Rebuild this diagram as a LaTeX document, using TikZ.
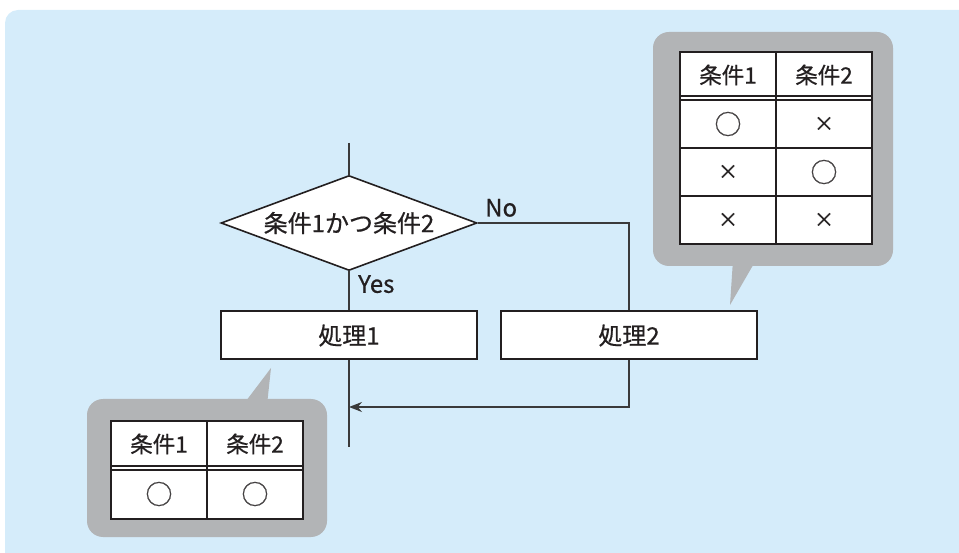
\documentclass[tikz,border=0pt]{standalone}
\usepackage{fontspec}
\setmainfont[FakeBold=0.6]{Noto Sans CJK JP}
\usetikzlibrary{shapes.geometric,arrows.meta}
\definecolor{bgblue}{HTML}{D5ECFA}
\definecolor{callgray}{HTML}{B2B4B6}
\definecolor{linec}{HTML}{3A3A3A}
\definecolor{txt}{HTML}{231F20}
\tikzset{
  flow/.style={draw=linec, line width=1.4pt},
  procbox/.style={draw=txt, line width=2pt, fill=white, minimum width=256pt, minimum height=48pt, inner sep=0pt, font=\fontsize{24}{26}\selectfont, text=txt},
  decision/.style={diamond, aspect=2.7, draw=txt, line width=1.6pt, fill=white, minimum width=256pt, minimum height=95pt, inner sep=0pt, font=\fontsize{24}{26}\selectfont, text=txt},
  lbl/.style={font=\fontsize{24}{26}\selectfont, text=txt, inner sep=0pt},
  callout/.style={fill=callgray, rounded corners=16pt},
  tbl/.style={draw=txt, line width=1.3pt},
  cell/.style={font=\fontsize{22.5}{24}\selectfont, text=txt, inner sep=0pt},
  circsymb/.style={font=\fontsize{27}{28}\selectfont, text=txt!85, inner sep=0pt},
  crosssymb/.style={font=\fontsize{20}{22}\selectfont, text=txt, inner sep=0pt}
}
\begin{document}
\begin{tikzpicture}[x=1pt,y=-1pt]
\useasboundingbox (0,0) rectangle (959,553);
\fill[bgblue, rounded corners=13pt] (5,10) rectangle (990,590);

% callouts
\fill[callout] (653,32) rectangle (893,266);
\fill[callgray] (733,260) -- (756,260) -- (730,305) -- cycle;
\fill[callout] (87,399) rectangle (327,537);
\fill[callgray] (243,405) -- (267,405) -- (271,368) -- cycle;

% flowchart
\coordinate (top) at (349,143);
\node[decision] (d) at (349,223) {条件1かつ条件2};
\node[procbox] (p1) at (349,335.5) {処理1};
\node[procbox] (p2) at (629,335.5) {処理2};
\coordinate (bot) at (349,447);
\coordinate (m) at (349,407);

\draw[flow] (top) -- (d.north);
\draw[flow] (d.south) -- (p1.north);
\draw[flow] (d.east) -| (p2.north);
\draw[flow] (p1.south) -- (bot);
\draw[flow, -{Stealth[length=13pt,width=10pt]}] (p2.south) |- (m);

\node[lbl, anchor=south west] (no) at (485,217) {No};
\node[lbl, anchor=north west] (yes) at (358,275) {Yes};

% top-right table
\fill[white] (680,52) rectangle (872,244);
\draw[tbl] (680,52) rectangle (872,244);
\draw[tbl] (776,52) -- (776,244);
\draw[tbl] (680,96) -- (872,96);
\draw[tbl] (680,100) -- (872,100);
\draw[tbl] (680,148) -- (872,148);
\draw[tbl] (680,196) -- (872,196);
\node[cell] (h1) at (728,75) {条件1};
\node[cell] (h2) at (824,75) {条件2};
\node[circsymb] (a11) at (728,124) {○};
\node[crosssymb] (a12) at (824,124) {×};
\node[crosssymb] (a21) at (728,172) {×};
\node[circsymb] (a22) at (824,172) {○};
\node[crosssymb] (a31) at (728,220) {×};
\node[crosssymb] (a32) at (824,220) {×};

% bottom-left table
\fill[white] (111,421) rectangle (303,519);
\draw[tbl] (111,421) rectangle (303,519);
\draw[tbl] (207,421) -- (207,519);
\draw[tbl] (111,466) -- (303,466);
\draw[tbl] (111,470) -- (303,470);
\node[cell] (g1) at (159,444) {条件1};
\node[cell] (g2) at (255,444) {条件2};
\node[circsymb] (b1) at (159,494) {○};
\node[circsymb] (b2) at (255,494) {○};
\end{tikzpicture}
\end{document}
